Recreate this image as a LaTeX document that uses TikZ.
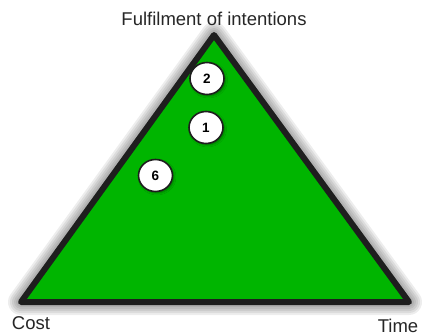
\documentclass[tikz,border=0pt]{standalone}
\usepackage{fontspec}
\setmainfont{Liberation Sans}
\usetikzlibrary{shapes.geometric,shadows.blur}
\definecolor{fillgreen}{RGB}{0,181,0}
\definecolor{edgegray}{RGB}{30,30,30}
\tikzset{
  corner/.style={font=\fontsize{18.5}{21}\selectfont, text=black!85},
  numdisc/.style={ellipse, draw=edgegray, line width=1.6pt, fill=white,
    minimum width=34pt, minimum height=32pt, inner sep=0pt,
    font=\fontsize{13.5}{15}\selectfont\bfseries,
    blur shadow={shadow xshift=1.5pt, shadow yshift=-1.5pt, shadow blur radius=2pt, shadow opacity=35}},
}
\begin{document}
\begin{tikzpicture}[x=1pt,y=-1pt]
  \useasboundingbox (0,0) rectangle (431,334);

  % the three corners of the triangle
  \coordinate (apex) at (214,35);
  \coordinate (left) at (21,302);
  \coordinate (right) at (409,302);

  % soft shadow, built up from wide faint strokes
  \begin{scope}[shift={(5,6)}, line join=round]
    \foreach \w in {26,22,18,14,10,6}
      \draw[black, opacity=0.07, line width=\w pt, fill=black, fill opacity=0.07]
        (apex) -- (right) -- (left) -- cycle;
  \end{scope}

  \draw[line width=6pt, line join=round, draw=edgegray, fill=fillgreen]
    (apex) -- (right) -- (left) -- cycle;

  \node[corner] (top) at (214,19) {Fulfilment of intentions};
  \node[corner] (cost) at (31,323) {Cost};
  \node[corner] (time) at (398,326) {Time};

  \node[numdisc] (d2) at (207,78.5) {2};
  \node[numdisc] (d1) at (206,127.5) {1};
  \node[numdisc] (d6) at (155.5,175.5) {6};
\end{tikzpicture}
\end{document}
